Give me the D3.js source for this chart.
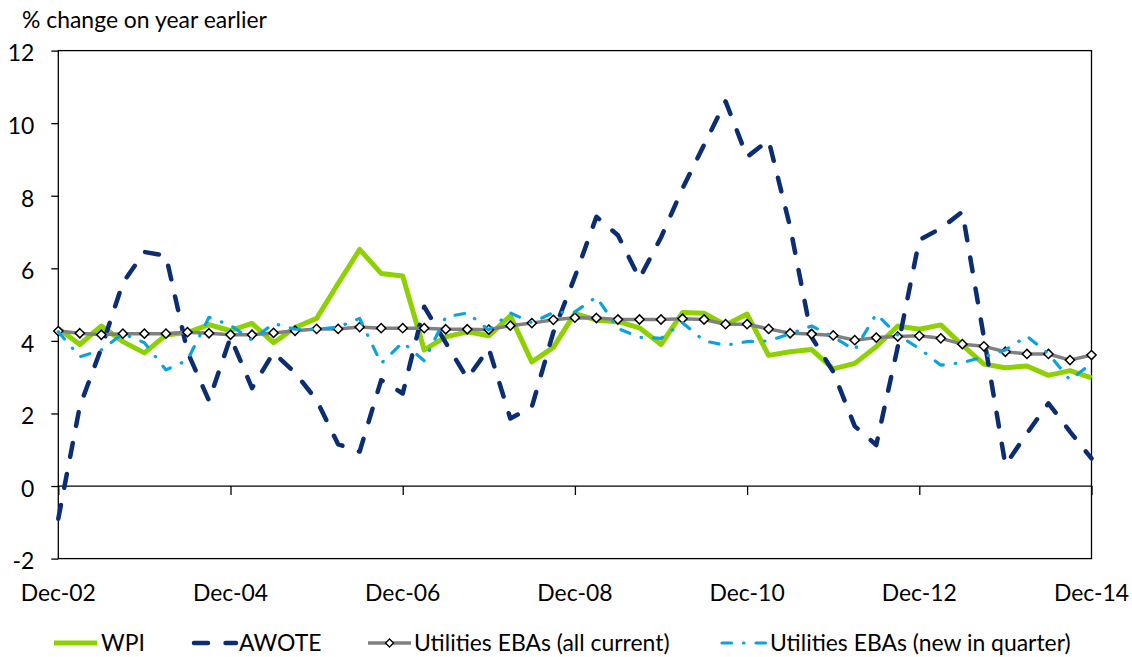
<!DOCTYPE html>
<html>
<head>
<meta charset="utf-8">
<script src="https://cdn.jsdelivr.net/npm/d3@7/dist/d3.min.js"></script>
<style>
  body { margin: 0; background: #fff; }
  svg { display: block; }
  text { font-family: Lato, "Open Sans", "DejaVu Sans", sans-serif; fill: #000; }
</style>
</head>
<body>
<svg id="chart" width="1132" height="657"></svg>
<script>
// ---------- data ----------
const quarters = [
  "Dec-02","Mar-03","Jun-03","Sep-03","Dec-03","Mar-04","Jun-04","Sep-04",
  "Dec-04","Mar-05","Jun-05","Sep-05","Dec-05","Mar-06","Jun-06","Sep-06",
  "Dec-06","Mar-07","Jun-07","Sep-07","Dec-07","Mar-08","Jun-08","Sep-08",
  "Dec-08","Mar-09","Jun-09","Sep-09","Dec-09","Mar-10","Jun-10","Sep-10",
  "Dec-10","Mar-11","Jun-11","Sep-11","Dec-11","Mar-12","Jun-12","Sep-12",
  "Dec-12","Mar-13","Jun-13","Sep-13","Dec-13","Mar-14","Jun-14","Sep-14",
  "Dec-14"
];
const xTickLabels = ["Dec-02","Dec-04","Dec-06","Dec-08","Dec-10","Dec-12","Dec-14"];
const yTickValues = [-2, 0, 2, 4, 6, 8, 10, 12];
const yTickLabels = ["-2", "0", "2", "4", "6", "8", "10", "12"];
const yTitle = "% change on year earlier";

const wpi = [
  4.34, 3.90, 4.41, 3.98, 3.67, 4.16, 4.23, 4.45,
  4.28, 4.48, 3.95, 4.37, 4.62, 5.58, 6.52, 5.86,
  5.79, 3.75, 4.11, 4.25, 4.14, 4.69, 3.42, 3.82,
  4.76, 4.57, 4.53, 4.36, 3.90, 4.78, 4.76, 4.44,
  4.74, 3.60, 3.70, 3.76, 3.23, 3.38, 3.84, 4.41,
  4.32, 4.44, 3.88, 3.36, 3.26, 3.31, 3.05, 3.18,
  2.98
];
const awote = [
  -0.90, 2.20, 3.80, 5.60, 6.45, 6.35, 3.70, 2.35,
  4.10, 2.70, 3.68, 3.12, 2.37, 1.15, 0.95, 2.92,
  2.55, 4.94, 3.95, 2.97, 3.79, 1.86, 2.18, 4.24,
  5.77, 7.42, 6.91, 5.72, 6.85, 8.20, 9.40, 10.60,
  9.07, 9.53, 7.14, 4.10, 3.15, 1.65, 1.13, 3.84,
  6.78, 7.10, 7.56, 4.10, 0.58, 1.45, 2.28, 1.50,
  0.76
];
const ebaCurrent = [
  4.27, 4.21, 4.17, 4.20, 4.20, 4.20, 4.24, 4.21,
  4.17, 4.17, 4.22, 4.28, 4.33, 4.33, 4.38, 4.35,
  4.35, 4.35, 4.32, 4.32, 4.31, 4.42, 4.49, 4.58,
  4.64, 4.63, 4.59, 4.59, 4.59, 4.61, 4.59, 4.46,
  4.46, 4.33, 4.21, 4.19, 4.15, 4.02, 4.09, 4.12,
  4.14, 4.07, 3.91, 3.85, 3.70, 3.64, 3.64, 3.47,
  3.61
];
const ebaNew = [
  4.25, 3.56, 3.75, 4.20, 3.95, 3.20, 3.47, 4.65,
  4.43, 4.02, 4.48, 4.32, 4.32, 4.38, 4.62, 3.38,
  3.96, 3.45, 4.66, 4.77, 4.30, 4.77, 4.50, 4.78,
  4.80, 5.21, 4.34, 4.10, 4.07, 4.50, 4.00, 3.88,
  3.98, 4.00, 4.20, 4.41, 4.11, 3.75, 4.74, 4.16,
  3.79, 3.33, 3.40, 3.56, 3.75, 4.13, 3.65, 2.92,
  3.38
];
const seriesNames = ["WPI", "AWOTE", "Utilities EBAs (all current)", "Utilities EBAs (new in quarter)"];

// ---------- styles ----------
const styles = [
  { color: "#8ed100", width: 5,   dash: null,            cap: "butt",  marker: false },
  { color: "#0a2d73", width: 4.5, dash: "14,17.5",       cap: "round", marker: false },
  { color: "#808080", width: 3.5, dash: null,            cap: "butt",  marker: true  },
  { color: "#0aa3e0", width: 3.2, dash: "9.5,12,0.5,12", cap: "round", marker: false }
];
const seriesData = [wpi, awote, ebaCurrent, ebaNew];

// ---------- layout ----------
const svg = d3.select("#chart");
const L = 58.3, R = 1091.5, T = 50.6, B = 558.6;

// font size fitted so the axis title spans like the reference
const probe = svg.append("text").attr("font-size", 20).text(yTitle);
const pw = probe.node().getComputedTextLength();
probe.remove();
const FS = 20 * 245 / pw;

const x = d3.scalePoint().domain(quarters).range([L, R]);
const y = d3.scaleLinear().domain([-2, 12]).range([B, T]);

// axis title
svg.append("text").attr("x", 22).attr("y", 28).attr("font-size", FS).text(yTitle);

// plot border
svg.append("rect")
  .attr("x", L).attr("y", T).attr("width", R - L).attr("height", B - T)
  .attr("fill", "none").attr("stroke", "#000").attr("stroke-width", 1.3);

// y axis
const yAxis = d3.axisLeft(y).tickValues(yTickValues).tickSize(7).tickPadding(17)
  .tickFormat((d, i) => yTickLabels[i]);
const gy = svg.append("g").attr("transform", `translate(${L},0)`).call(yAxis);
gy.select(".domain").remove();
gy.selectAll(".tick line").attr("stroke", "#000").attr("stroke-width", 1.3);
gy.selectAll(".tick text").attr("font-size", FS).attr("font-family", null).attr("fill", "#000")
  .attr("dy", "0.45em");

// x axis line at zero with ticks
const xAxis = d3.axisBottom(x).tickValues(xTickLabels).tickSize(9).tickFormat("");
const gx = svg.append("g").attr("transform", `translate(0,${y(0)})`).call(xAxis);
gx.select(".domain").attr("stroke", "#000").attr("stroke-width", 1.3).attr("d", `M${L},0H${R}`);
gx.selectAll(".tick line").attr("stroke", "#000").attr("stroke-width", 1.3);

// x labels at the bottom
svg.append("g").selectAll("text").data(xTickLabels).join("text")
  .attr("x", d => x(d)).attr("y", 601)
  .attr("text-anchor", "middle").attr("font-size", FS).text(d => d);

// series
const line = d3.line().x((d, i) => x(quarters[i])).y(d => y(d));
seriesData.forEach((vals, k) => {
  const s = styles[k];
  svg.append("path").datum(vals)
    .attr("d", line)
    .attr("fill", "none")
    .attr("stroke", s.color)
    .attr("stroke-width", s.width)
    .attr("stroke-linejoin", "round")
    .attr("stroke-linecap", s.cap)
    .attr("stroke-dasharray", s.dash);
  if (s.marker) {
    svg.append("g").selectAll("path").data(vals).join("path")
      .attr("transform", (d, i) => `translate(${x(quarters[i])},${y(d)})`)
      .attr("d", "M0,-4.6L4.6,0L0,4.6L-4.6,0Z")
      .attr("fill", "#fff").attr("stroke", "#000").attr("stroke-width", 1.5);
  }
});

// legend
const legendItems = [
  { x0: 54, x1: 97, tx: 101 },
  { x0: 194, x1: 236, tx: 239 },
  { x0: 368, x1: 411, tx: 414 },
  { x0: 722, x1: 766, tx: 770 }
];
const LY = 643;
legendItems.forEach((it, k) => {
  const s = styles[k];
  const g = svg.append("g");
  g.append("line")
    .attr("x1", it.x0).attr("x2", it.x1).attr("y1", LY).attr("y2", LY)
    .attr("stroke", s.color).attr("stroke-width", s.width)
    .attr("stroke-linecap", s.cap).attr("stroke-dasharray", s.dash);
  if (s.marker) {
    g.append("path").attr("transform", `translate(${(it.x0 + it.x1) / 2},${LY})`)
      .attr("d", "M0,-4L4,0L0,4L-4,0Z")
      .attr("fill", "#fff").attr("stroke", "#000").attr("stroke-width", 1.3);
  }
  g.append("text").attr("x", it.tx).attr("y", LY + 8).attr("font-size", FS).text(seriesNames[k]);
});
</script>
</body>
</html>
